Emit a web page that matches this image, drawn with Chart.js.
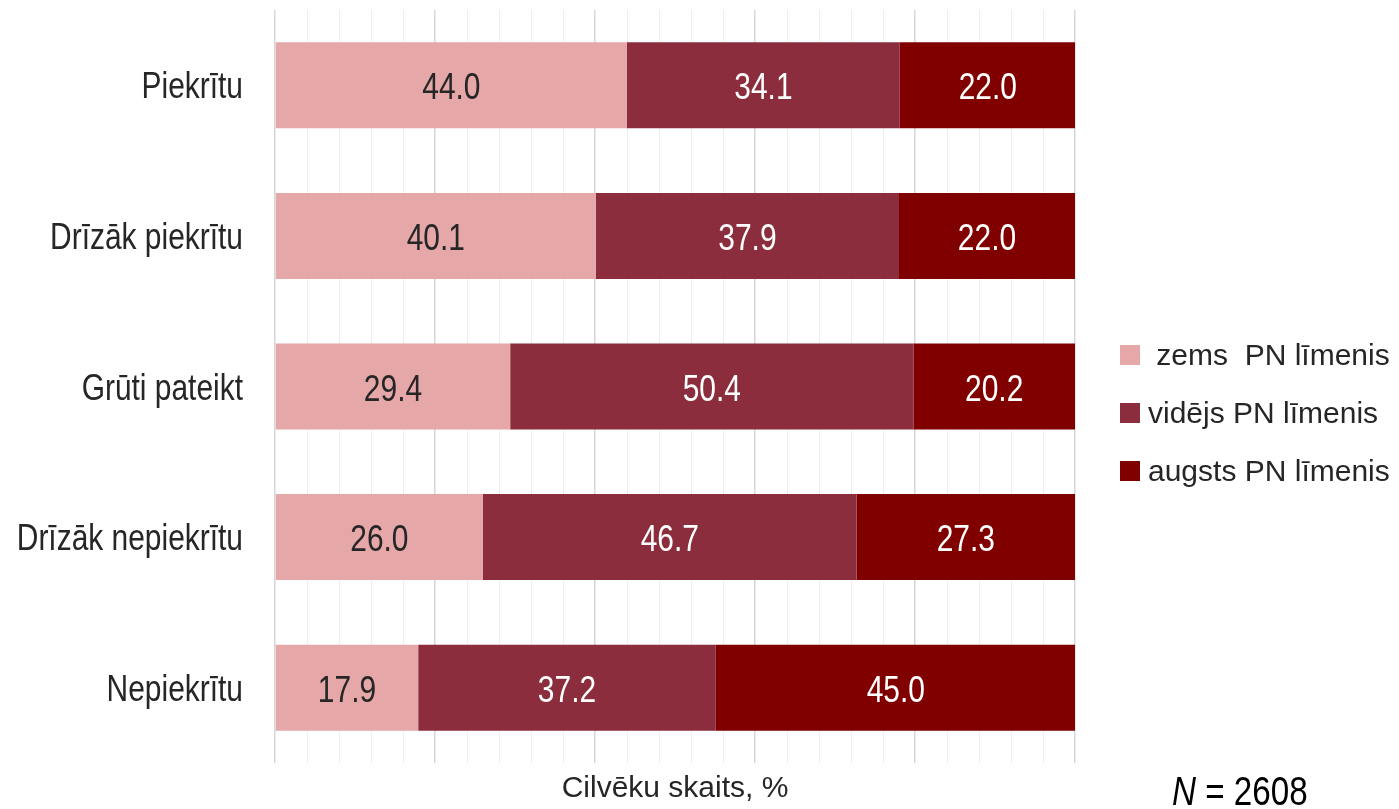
<!DOCTYPE html>
<html lang="lv">
<head>
<meta charset="utf-8">
<title>PN līmenis</title>
<script src="https://cdn.jsdelivr.net/npm/chart.js@4.4.1/dist/chart.umd.min.js"></script>
<style>
    html, body { margin: 0; padding: 0; background: #ffffff; }
    #wrap { width: 1399px; height: 809px; }
</style>
</head>
<body>
<div id="wrap"><canvas id="pnChart" width="1399" height="809"></canvas></div>
<script>
// Kategorijas (atbildes) un sadalījums pa PN līmeņiem, %
const categories = ['Piekrītu', 'Drīzāk piekrītu', 'Grūti pateikt', 'Drīzāk nepiekrītu', 'Nepiekrītu'];
const seriesNames = [' zems  PN līmenis', 'vidējs PN līmenis', 'augsts PN līmenis'];
const lowLevel = [44.0, 40.1, 29.4, 26.0, 17.9];
const midLevel = [34.1, 37.9, 50.4, 46.7, 37.2];
const highLevel = [22.0, 22.0, 20.2, 27.3, 45.0];
const sampleSize = 2608;

const SANS = '"Liberation Sans", Arial, sans-serif';
const NARROW = 0.82;   // Arial Narrow ≈ Arial saspiests horizontāli
const TEXT_COLOR = '#262626';
const seriesColors = ['#e5a7a8', '#8b2d3c', '#800000'];
const labelColors = ['#262626', '#ffffff', '#ffffff'];

// šaurs teksts: parasto fontu saspiež pa x asi
function narrowText(ctx, text, x, y, size, align, color, style) {
    ctx.save();
    ctx.font = (style || '') + ' ' + size + 'px ' + SANS;
    ctx.fillStyle = color;
    ctx.textAlign = align;
    ctx.textBaseline = 'alphabetic';
    ctx.translate(x, y);
    ctx.scale(NARROW, 1);
    ctx.fillText(text, 0, 0);
    const w = ctx.measureText(text).width * NARROW;
    ctx.restore();
    return w;
}

// Kategoriju nosaukumi pie y ass
const categoryLabels = {
    id: 'categoryLabels',
    afterDraw(chart) {
        const y = chart.scales.y;
        const size = 36.5;
        y.ticks.forEach((tick, i) => {
            const cy = y.getPixelForTick(i);
            narrowText(chart.ctx, y.getLabelForValue(tick.value), y.right - 32, cy + 0.358 * size, size, 'right', TEXT_COLOR);
        });
    }
};

// Vērtību uzraksti segmentu vidū
const barLabels = {
    id: 'barLabels',
    afterDatasetsDraw(chart) {
        const size = 36.5;
        chart.data.datasets.forEach((ds, i) => {
            const meta = chart.getDatasetMeta(i);
            meta.data.forEach((bar, j) => {
                narrowText(chart.ctx, ds.data[j].toFixed(1), (bar.x + bar.base) / 2,
                    bar.y + 0.358 * size + 1, size, 'center', labelColors[i]);
            });
        });
    }
};

// Leģenda labajā pusē, ass nosaukums un N apakšā
const sideLegend = {
    id: 'sideLegend',
    afterDraw(chart) {
        const ctx = chart.ctx;
        ctx.save();
        ctx.font = '30px ' + SANS;
        ctx.textBaseline = 'alphabetic';
        ctx.textAlign = 'left';
        chart.data.datasets.forEach((ds, i) => {
            const cy = 355 + i * 58;
            ctx.fillStyle = ds.backgroundColor;
            ctx.fillRect(1120, cy - 10, 20, 20);
            ctx.fillStyle = TEXT_COLOR;
            ctx.fillText(ds.label, 1148, cy + 10);
        });

        const x = chart.scales.x;
        ctx.textAlign = 'center';
        ctx.fillText('Cilvēku skaits, %', (x.left + x.right) / 2, 797);
        ctx.restore();

        const nw = narrowText(ctx, 'N', 1172, 805, 40.5, 'left', '#000000', 'italic');
        narrowText(ctx, ' = ' + sampleSize, 1172 + nw, 805, 40.5, 'left', '#000000');
    }
};

const datasets = [lowLevel, midLevel, highLevel].map((values, i) => ({
    label: seriesNames[i],
    data: values,
    backgroundColor: seriesColors[i],
    borderWidth: 0,
    categoryPercentage: 0.571,
    barPercentage: 1.0
}));

new Chart(document.getElementById('pnChart'), {
    type: 'bar',
    data: { labels: categories, datasets: datasets },
    options: {
        indexAxis: 'y',
        responsive: false,
        animation: false,
        layout: { padding: { left: 0, right: 324, top: 10, bottom: 0 } },
        plugins: {
            legend: { display: false },
            tooltip: { enabled: false }
        },
        scales: {
            x: {
                stacked: true,
                min: 0,
                max: 100,
                border: { display: false },
                ticks: { stepSize: 4, display: false },
                grid: {
                    drawTicks: false,
                    color: (c) => (c.tick && c.tick.value % 20 === 0) ? '#d6d6d6' : '#eeeeee',
                    lineWidth: (c) => (c.tick && c.tick.value % 20 === 0) ? 1.5 : 1
                },
                afterFit: (scale) => {
                    scale.height = 46;
                    scale.paddingLeft = 0;
                    scale.paddingRight = 0;
                }
            },
            y: {
                stacked: true,
                border: { display: false },
                grid: { display: false },
                ticks: { display: false },
                afterFit: (scale) => {
                    scale.width = 275;
                    scale.paddingTop = 0;
                    scale.paddingBottom = 0;
                }
            }
        }
    },
    plugins: [barLabels, categoryLabels, sideLegend]
});
</script>
</body>
</html>
